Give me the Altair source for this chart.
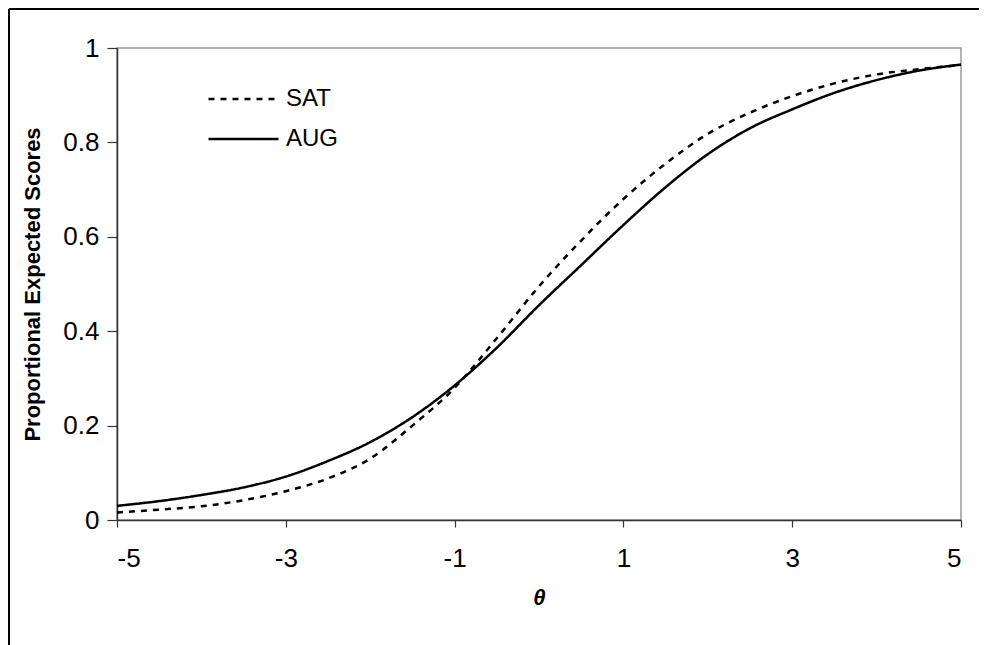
import altair as alt
import pandas as pd

theta = [-5, -4.5, -4, -3.5, -3, -2.5, -2, -1.5, -1, -0.5, 0, 0.5, 1, 1.5, 2, 2.5, 3, 3.5, 4, 4.5, 5]
aug = [0.030, 0.040, 0.053, 0.069, 0.092, 0.125, 0.165, 0.218, 0.285, 0.365, 0.455, 0.540,
       0.625, 0.705, 0.775, 0.830, 0.870, 0.905, 0.932, 0.952, 0.965]
sat = [0.016, 0.022, 0.029, 0.042, 0.061, 0.088, 0.130, 0.200, 0.280, 0.385, 0.495, 0.592,
       0.680, 0.755, 0.818, 0.863, 0.898, 0.925, 0.944, 0.955, 0.964]
series_names = ["SAT", "AUG"]
x_ticks = [-5, -3, -1, 1, 3, 5]
y_ticks = [0, 0.2, 0.4, 0.6, 0.8, 1]

rows = []
for t, v in zip(theta, sat):
    rows.append({"theta": t, "value": v, "series": "SAT"})
for t, v in zip(theta, aug):
    rows.append({"theta": t, "value": v, "series": "AUG"})
df = pd.DataFrame(rows)

FONT = "Liberation Sans"

lines = alt.Chart(df).mark_line(strokeWidth=2.5, color="black", interpolate="monotone").encode(
    x=alt.X("theta:Q", scale=alt.Scale(domain=[-5, 5], nice=False),
            axis=alt.Axis(values=x_ticks, labelExpr="datum.value + ''", title="θ",
                          titleFontStyle="italic", titleFontWeight="bold", titleFontSize=22,
                          titlePadding=16, labelFontSize=26, labelPadding=18, tickSize=7,
                          grid=False)),
    y=alt.Y("value:Q", scale=alt.Scale(domain=[0, 1], nice=False),
            axis=alt.Axis(values=y_ticks, labelExpr="datum.value + ''",
                          title="Proportional Expected Scores",
                          titleFontWeight="bold", titleFontSize=22, titlePadding=18,
                          labelFontSize=26, labelPadding=8, tickSize=10, grid=False)),
    strokeDash=alt.StrokeDash("series:N",
                              scale=alt.Scale(domain=series_names, range=[[6, 6], [1, 0]]),
                              legend=alt.Legend(orient="none", legendX=90, legendY=38, title=None,
                                                symbolType="stroke", symbolSize=4900,
                                                symbolStrokeWidth=2.5, symbolStrokeColor="black",
                                                labelFontSize=24, labelFont=FONT, labelOffset=6,
                                                labelColor="black", clipHeight=26,
                                                rowPadding=14, padding=0)),
)

frame_left = alt.Chart(df).mark_rule(color="black", strokeWidth=1.5).encode(
    x=alt.value(-108), y=alt.value(-39), y2=alt.value(700))
frame_top = alt.Chart(df).mark_rule(color="black", strokeWidth=1.5).encode(
    x=alt.value(-108), x2=alt.value(900), y=alt.value(-39))

chart = alt.layer(lines, frame_left, frame_top).properties(
    width=844, height=472,
    autosize=alt.AutoSizeParams(type="none"),
    padding={"left": 109, "top": 40, "right": 18, "bottom": 130},
    background="white",
).configure_axis(
    labelFont=FONT, titleFont=FONT, labelColor="black", titleColor="black",
    domainColor="#333333", domainWidth=1.5, tickColor="#333333", tickWidth=1.2,
).configure_view(stroke="#999999", strokeWidth=1.5)

chart.save("out.html", embed_options={"renderer": "svg", "actions": False})
